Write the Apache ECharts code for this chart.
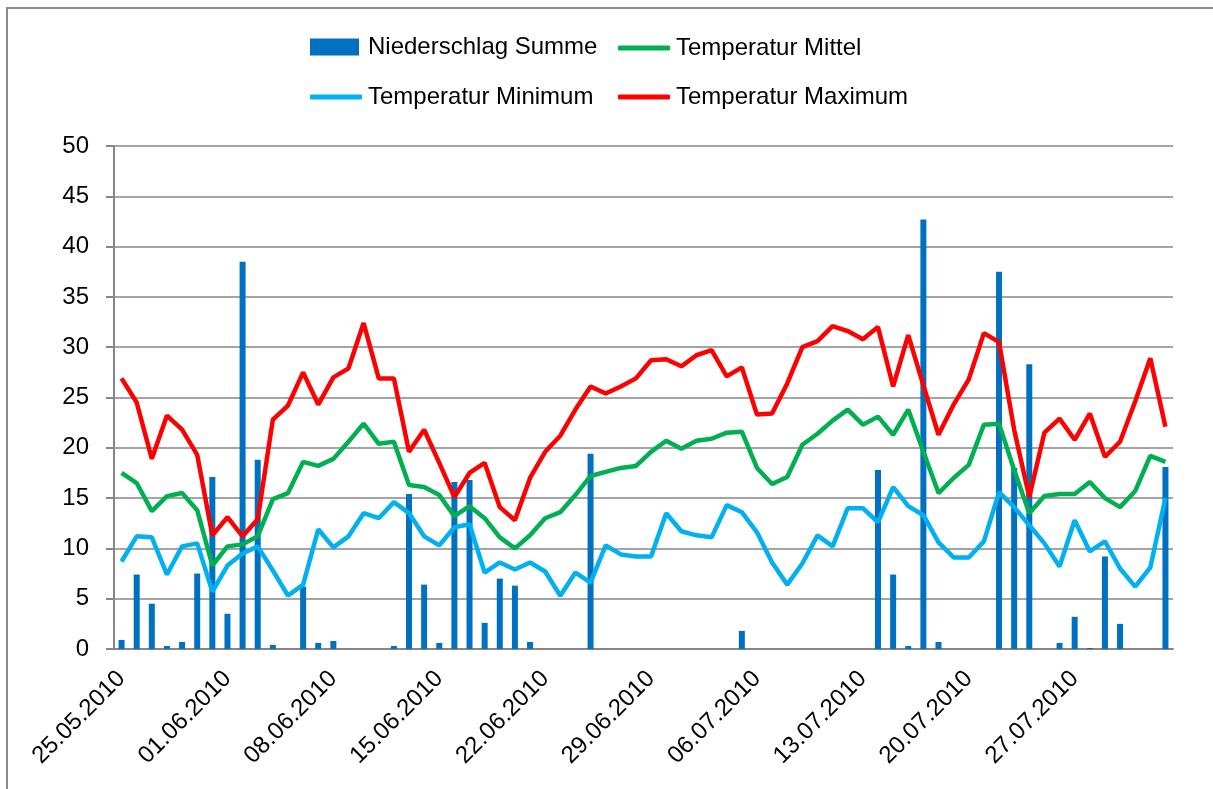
<!DOCTYPE html>
<html lang="de">
<head>
  <meta charset="UTF-8">
  <title>Niederschlag und Temperatur</title>
  <script src="https://cdn.jsdelivr.net/npm/echarts@6/dist/echarts.min.js"></script>
  <style>
    html, body { margin: 0; padding: 0; background: #fff; }
    #chart { width: 1213px; height: 789px; }
  </style>
</head>
<body>
<div id="chart"></div>
<script>
  // Tage ab 25.05.2010 (70 Tage)
  var startDate = new Date(2010, 4, 25);
  var dayCount = 70;
  var yTicks = { min: 0, max: 50, step: 5 };

  var niederschlag = [
    0.9, 7.4, 4.5, 0.3, 0.7, 7.5, 17.1, 3.5, 38.5, 18.8,
    0.4, 0, 6.2, 0.6, 0.8, 0, 0, 0, 0.3, 15.4,
    6.4, 0.6, 16.6, 16.8, 2.6, 7.0, 6.3, 0.7, 0, 0,
    0, 19.4, 0, 0, 0, 0, 0, 0, 0, 0,
    0, 1.8, 0, 0, 0, 0, 0, 0, 0, 0,
    17.8, 7.4, 0.3, 42.7, 0.7, 0, 0, 0, 37.5, 18.0,
    28.3, 0, 0.6, 3.2, 0.1, 9.2, 2.5, 0, 0, 18.1
  ];
  var tempMittel = [
    17.5, 16.5, 13.7, 15.2, 15.5, 13.8, 8.3, 10.2, 10.4, 11.2,
    14.9, 15.5, 18.6, 18.2, 18.9, 20.6, 22.4, 20.4, 20.6, 16.3,
    16.1, 15.3, 13.2, 14.2, 13.0, 11.1, 10.0, 11.3, 13.0, 13.6,
    15.3, 17.2, 17.6, 18.0, 18.2, 19.6, 20.7, 19.9, 20.7, 20.9,
    21.5, 21.6, 18.0, 16.4, 17.1, 20.3, 21.4, 22.7, 23.8, 22.3,
    23.1, 21.3, 23.8, 19.6, 15.5, 17.0, 18.3, 22.3, 22.4, 17.8,
    13.5, 15.2, 15.4, 15.4, 16.6, 15.0, 14.1, 15.7, 19.2, 18.6
  ];
  var tempMin = [
    8.7, 11.2, 11.1, 7.4, 10.2, 10.5, 5.7, 8.3, 9.5, 10.2,
    7.8, 5.3, 6.4, 11.9, 10.1, 11.2, 13.5, 13.0, 14.6, 13.5,
    11.2, 10.3, 12.1, 12.4, 7.6, 8.6, 7.9, 8.6, 7.7, 5.3,
    7.6, 6.6, 10.3, 9.4, 9.2, 9.2, 13.5, 11.7, 11.3, 11.1,
    14.3, 13.6, 11.6, 8.6, 6.4, 8.5, 11.3, 10.2, 14.0, 14.0,
    12.6, 16.1, 14.2, 13.3, 10.6, 9.1, 9.1, 10.7, 15.6, 14.1,
    12.3, 10.5, 8.2, 12.8, 9.7, 10.7, 8.0, 6.2, 8.1, 15.0
  ];
  var tempMax = [
    26.9, 24.5, 18.9, 23.2, 21.8, 19.3, 11.3, 13.1, 11.2, 12.9,
    22.8, 24.2, 27.5, 24.3, 27.0, 27.9, 32.4, 26.9, 26.9, 19.6,
    21.8, 18.5, 15.1, 17.5, 18.5, 14.1, 12.8, 17.0, 19.6, 21.2,
    23.8, 26.1, 25.4, 26.1, 26.9, 28.7, 28.8, 28.1, 29.2, 29.7,
    27.1, 28.0, 23.3, 23.4, 26.4, 30.0, 30.6, 32.1, 31.6, 30.8,
    32.0, 26.1, 31.2, 26.2, 21.3, 24.3, 26.8, 31.4, 30.5, 21.8,
    15.1, 21.5, 22.9, 20.8, 23.4, 19.1, 20.6, 24.6, 28.9, 22.1
  ];

  function pad(n) { return n < 10 ? '0' + n : '' + n; }
  var tage = [];
  for (var i = 0; i < dayCount; i++) {
    var d = new Date(startDate.getFullYear(), startDate.getMonth(), startDate.getDate() + i);
    tage.push(pad(d.getDate()) + '.' + pad(d.getMonth() + 1) + '.' + d.getFullYear());
  }

  var schrift = '"Liberation Sans", Arial, sans-serif';
  var grau = '#868686';

  // eine Legende je Eintrag, damit die Spalten wie im Original stehen
  function legende(name, x, y, istLinie) {
    return {
      data: [{ name: name, icon: istLinie ? 'roundRect' : 'rect' }],
      left: x, top: y, padding: 0,
      itemWidth: istLinie ? 52 : 49, itemHeight: istLinie ? 5 : 17, itemGap: 0,
      textStyle: { fontFamily: schrift, fontSize: 24, color: '#000', padding: [0, 0, 0, istLinie ? 1 : 4] }
    };
  }

  var chart = echarts.init(document.getElementById('chart'));
  chart.setOption({
    animation: false,
    backgroundColor: '#fff',
    graphic: [
      { type: 'polyline', shape: { points: [[7, 789], [7, 8], [1213, 8]] }, style: { stroke: '#8c8c8c', lineWidth: 2, fill: null } }
    ],
    legend: [
      legende('Niederschlag Summe', 310, 35, false),
      legende('Temperatur Mittel', 618, 36, true),
      legende('Temperatur Minimum', 310, 85, true),
      legende('Temperatur Maximum', 618, 85, true)
    ],
    grid: { left: 114, right: 40, top: 146, bottom: 140 },
    xAxis: {
      type: 'category',
      data: tage,
      boundaryGap: true,
      axisLine: { lineStyle: { color: grau, width: 2 } },
      axisTick: { interval: 6, length: 7, lineStyle: { color: grau, width: 2 } },
      axisLabel: { interval: 6, rotate: 45, margin: 26, fontFamily: schrift, fontSize: 24, color: '#000' }
    },
    yAxis: {
      type: 'value',
      min: yTicks.min, max: yTicks.max, interval: yTicks.step,
      axisLine: { show: true, lineStyle: { color: grau, width: 2 } },
      axisTick: { show: true, length: 8, lineStyle: { color: grau, width: 2 } },
      splitLine: { lineStyle: { color: grau, width: 1.5 } },
      axisLabel: { margin: 25, fontFamily: schrift, fontSize: 24, color: '#000' }
    },
    series: [
      { name: 'Niederschlag Summe', type: 'bar', data: niederschlag, barWidth: 6, itemStyle: { color: '#0070C0' } },
      { name: 'Temperatur Mittel', type: 'line', data: tempMittel, symbol: 'none', lineStyle: { color: '#00B050', width: 4.5 }, itemStyle: { color: '#00B050' } },
      { name: 'Temperatur Minimum', type: 'line', data: tempMin, symbol: 'none', lineStyle: { color: '#00B0F0', width: 4.5 }, itemStyle: { color: '#00B0F0' } },
      { name: 'Temperatur Maximum', type: 'line', data: tempMax, symbol: 'none', lineStyle: { color: '#FF0000', width: 4.5 }, itemStyle: { color: '#FF0000' } }
    ]
  });
</script>
</body>
</html>
